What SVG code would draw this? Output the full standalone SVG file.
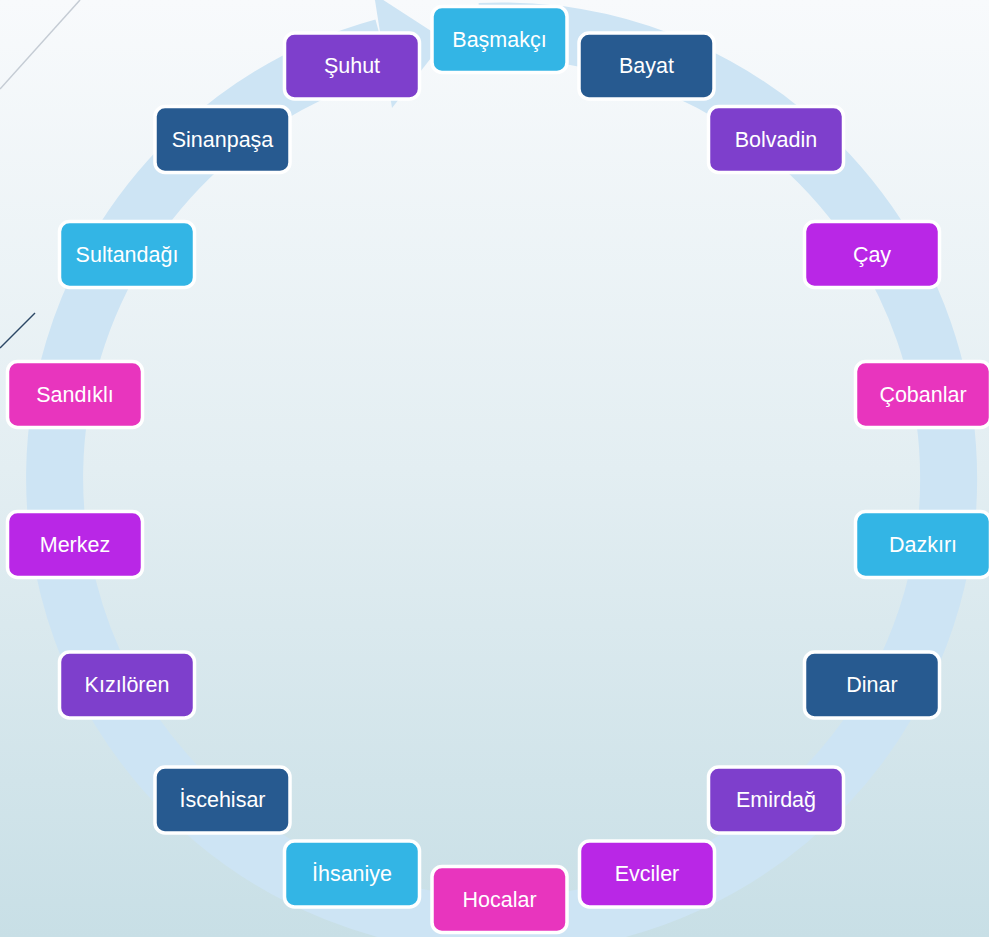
<svg xmlns="http://www.w3.org/2000/svg" width="989" height="937" viewBox="0 0 989 937">
<defs>
<linearGradient id="bg" x1="0" y1="0" x2="0" y2="1">
<stop offset="0" stop-color="#f8fafc"/>
<stop offset="0.5" stop-color="#e3eef2"/>
<stop offset="1" stop-color="#c8dfe6"/>
</linearGradient>
<style>
.n rect{stroke:#ffffff;stroke-width:3.5}
.n text{fill:#ffffff;font-family:"Liberation Sans",Arial,sans-serif;font-size:21.5px;text-anchor:middle;dominant-baseline:central}
.c1 rect{fill:#33b5e5}
.c2 rect{fill:#275a90}
.c3 rect{fill:#7e3fcc}
.c4 rect{fill:#b927e6}
.c5 rect{fill:#e835be}
</style>
</defs>
<rect x="0" y="0" width="989" height="937" fill="url(#bg)"/>
<line x1="80" y1="0" x2="0" y2="89" stroke="#c5ccd4" stroke-width="1.5"/>
<line x1="35" y1="313" x2="0" y2="348" stroke="#2c4866" stroke-width="1.5"/>
<g id="connectors">
<path d="M480 31.5 A447 447 0 1 1 383 47" fill="none" stroke="#cde4f4" stroke-width="57"/>
<polygon points="374,-6 392,108 445,40" fill="#cde4f4"/>
</g>
<g id="n-basmakci" class="n c1"><rect x="432" y="6.5" width="135" height="66" rx="10"/><text x="499.5" y="39.5">Başmakçı</text></g>
<g id="n-bayat" class="n c2"><rect x="579" y="33" width="135" height="66" rx="10"/><text x="646.5" y="66">Bayat</text></g>
<g id="n-bolvadin" class="n c3"><rect x="708.5" y="106.5" width="135" height="66" rx="10"/><text x="776" y="139.5">Bolvadin</text></g>
<g id="n-cay" class="n c4"><rect x="804.5" y="221.5" width="135" height="66" rx="10"/><text x="872" y="254.5">Çay</text></g>
<g id="n-cobanlar" class="n c5"><rect x="855.5" y="361.5" width="135" height="66" rx="10"/><text x="923" y="394.5">Çobanlar</text></g>
<g id="n-dazkiri" class="n c1"><rect x="855.5" y="511.5" width="135" height="66" rx="10"/><text x="923" y="544.5">Dazkırı</text></g>
<g id="n-dinar" class="n c2"><rect x="804.5" y="652" width="135" height="66" rx="10"/><text x="872" y="685">Dinar</text></g>
<g id="n-emirdag" class="n c3"><rect x="708.5" y="767" width="135" height="66" rx="10"/><text x="776" y="800">Emirdağ</text></g>
<g id="n-evciler" class="n c4"><rect x="579.5" y="841" width="135" height="66" rx="10"/><text x="647" y="874">Evciler</text></g>
<g id="n-hocalar" class="n c5"><rect x="432" y="866.5" width="135" height="66" rx="10"/><text x="499.5" y="899.5">Hocalar</text></g>
<g id="n-ihsaniye" class="n c1"><rect x="284.5" y="841" width="135" height="66" rx="10"/><text x="352" y="874">İhsaniye</text></g>
<g id="n-iscehisar" class="n c2"><rect x="155" y="767" width="135" height="66" rx="10"/><text x="222.5" y="800">İscehisar</text></g>
<g id="n-kiziloren" class="n c3"><rect x="59.5" y="652" width="135" height="66" rx="10"/><text x="127" y="685">Kızılören</text></g>
<g id="n-merkez" class="n c4"><rect x="7.5" y="511.5" width="135" height="66" rx="10"/><text x="75" y="544.5">Merkez</text></g>
<g id="n-sandikli" class="n c5"><rect x="7.5" y="361.5" width="135" height="66" rx="10"/><text x="75" y="394.5">Sandıklı</text></g>
<g id="n-sultandagi" class="n c1"><rect x="59.5" y="221.5" width="135" height="66" rx="10"/><text x="127" y="254.5">Sultandağı</text></g>
<g id="n-sinanpasa" class="n c2"><rect x="155" y="106.5" width="135" height="66" rx="10"/><text x="222.5" y="139.5">Sinanpaşa</text></g>
<g id="n-suhut" class="n c3"><rect x="284.5" y="33" width="135" height="66" rx="10"/><text x="352" y="66">Şuhut</text></g>
</svg>
